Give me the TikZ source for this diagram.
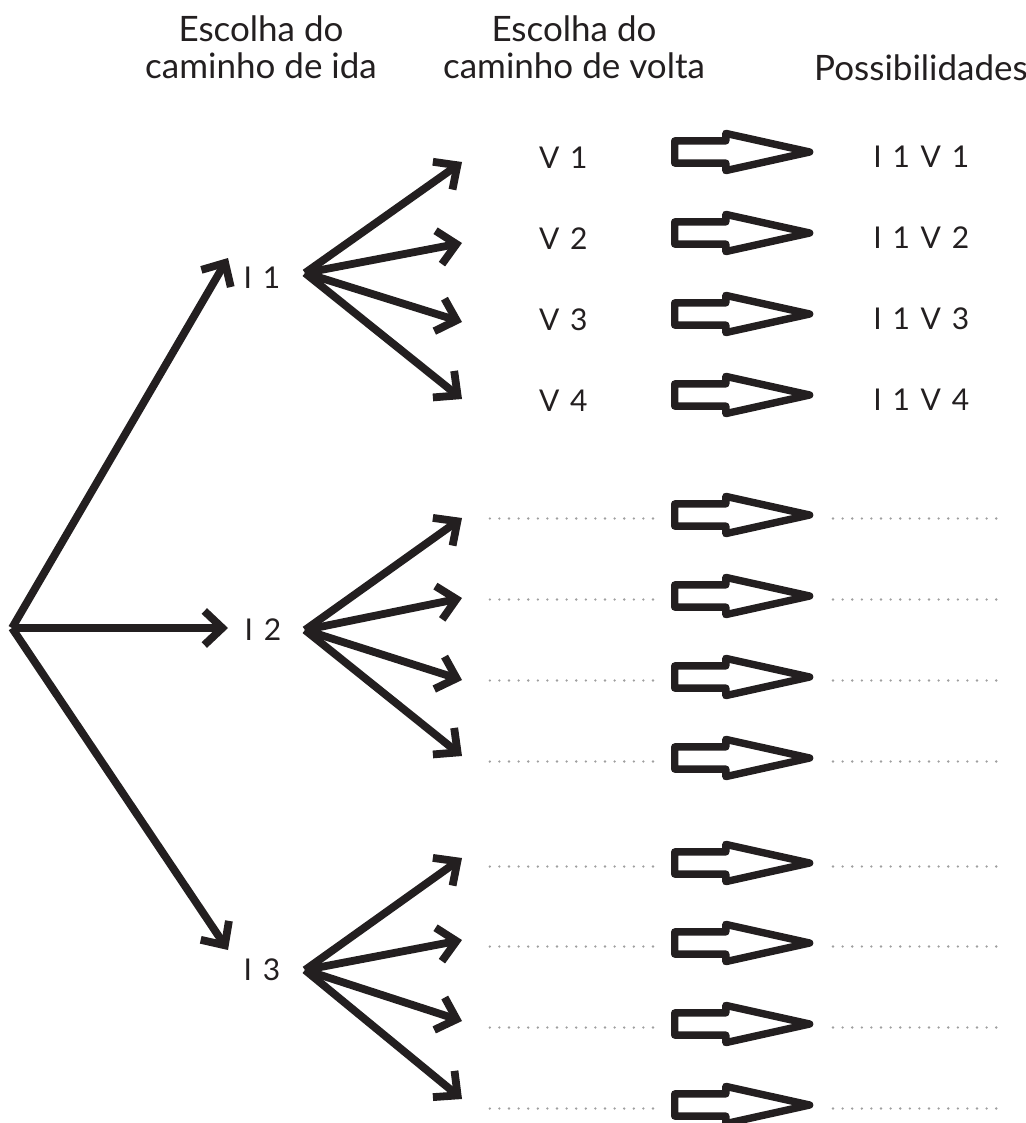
\documentclass[tikz,border=0pt]{standalone}
\usepackage{fontspec}
\setmainfont{Lato}
\newfontfamily\lblfont[WordSpace=1.4]{Lato}
\usepackage{xcolor}
\usepackage{tikz}
\usetikzlibrary{arrows.meta, positioning, shapes.arrows}
\definecolor{ink}{HTML}{231F20}

\begin{document}
\begin{tikzpicture}[
    x=0.5pt, y=-0.5pt,
    head/.style={align=center, text=ink, font=\fontsize{17.5}{18.5}\selectfont},
    lbl/.style={inner sep=0pt, text=ink, font=\lblfont\fontsize{15}{16}\selectfont},
    tree/.style={-{Straight Barb[length=9pt, width=17pt]}, line width=3.9pt, draw=ink},
    blk/.style={single arrow, anchor=west, draw=ink, line width=3.7pt, line join=round, inner sep=0pt, inner ysep=3.7pt, minimum height=67.5pt, single arrow head extend=3.75pt, single arrow tip angle=25},
    blank/.style={draw=gray!75, line width=1.3pt, line cap=round, dash pattern=on 0pt off 4.8pt}
]
\useasboundingbox (0,0) rectangle (1025,1123);

% Column titles
\node[head] (h_ida) at (261,47) {Escolha do\\caminho de ida};
\node[head] (h_volta) at (574,47) {Escolha do\\caminho de volta};
\node[head] (h_poss) at (921,68) {Possibilidades};

% First choice (ida)
\coordinate (root) at (12,628);
\node[lbl] (i1) at (262,278) {I 1};
\node[lbl] (i2) at (263,630) {I 2};
\node[lbl] (i3) at (262,970) {I 3};
\coordinate (i1_tip) at (228,258);
\coordinate (i2_tip) at (228,628);
\coordinate (i3_tip) at (228,950);
\draw[tree] (root) -- (i1_tip);
\draw[tree] (root) -- (i2_tip);
\draw[tree] (root) -- (i3_tip);

% Branch points
\coordinate (i1_out) at (305,273);
\coordinate (i2_out) at (305,630);
\coordinate (i3_out) at (305,970);

% Second choice (volta), branch ends
\coordinate (a11) at (462,162);
\coordinate (a12) at (462,243);
\coordinate (a13) at (462,322);
\coordinate (a14) at (462,399);
\coordinate (a21) at (462,518);
\coordinate (a22) at (462,598);
\coordinate (a23) at (462,680);
\coordinate (a24) at (462,756);
\coordinate (a31) at (462,858);
\coordinate (a32) at (462,940);
\coordinate (a33) at (462,1021);
\coordinate (a34) at (462,1099);
\draw[tree] (i1_out) -- (a11);
\draw[tree] (i1_out) -- (a12);
\draw[tree] (i1_out) -- (a13);
\draw[tree] (i1_out) -- (a14);
\draw[tree] (i2_out) -- (a21);
\draw[tree] (i2_out) -- (a22);
\draw[tree] (i2_out) -- (a23);
\draw[tree] (i2_out) -- (a24);
\draw[tree] (i3_out) -- (a31);
\draw[tree] (i3_out) -- (a32);
\draw[tree] (i3_out) -- (a33);
\draw[tree] (i3_out) -- (a34);

% Block arrows
\node[blk] (b11) at (671,152) {};
\node[blk] (b12) at (671,233) {};
\node[blk] (b13) at (671,314) {};
\node[blk] (b14) at (671,395) {};
\node[blk] (b21) at (671,515) {};
\node[blk] (b22) at (671,596) {};
\node[blk] (b23) at (671,677) {};
\node[blk] (b24) at (671,758) {};
\node[blk] (b31) at (671,863) {};
\node[blk] (b32) at (671,943) {};
\node[blk] (b33) at (671,1024) {};
\node[blk] (b34) at (671,1105) {};

% Return paths and possibilities (first group)
\node[lbl, left=41.5pt of b11, yshift=-2.75pt] (v1) {V 1};
\node[lbl, left=41.5pt of b12, yshift=-2.75pt] (v2) {V 2};
\node[lbl, left=41.5pt of b13, yshift=-2.75pt] (v3) {V 3};
\node[lbl, left=41.5pt of b14, yshift=-2.75pt] (v4) {V 4};
\node[lbl, right=101pt of b11.west, yshift=-2.5pt] (p11) {I 1 V 1};
\node[lbl, right=101pt of b12.west, yshift=-2.5pt] (p12) {I 1 V 2};
\node[lbl, right=101pt of b13.west, yshift=-2.5pt] (p13) {I 1 V 3};
\node[lbl, right=101pt of b14.west, yshift=-2.5pt] (p14) {I 1 V 4};

% Blanks to fill in
\draw[blank] ([xshift=-9pt,yshift=-1.75pt]b21.west) -- ++(-164,0);
\draw[blank] ([xshift=-9pt,yshift=-1.75pt]b22.west) -- ++(-164,0);
\draw[blank] ([xshift=-9pt,yshift=-1.75pt]b23.west) -- ++(-164,0);
\draw[blank] ([xshift=-9pt,yshift=-1.75pt]b24.west) -- ++(-164,0);
\draw[blank] ([xshift=-9pt,yshift=-1.75pt]b31.west) -- ++(-164,0);
\draw[blank] ([xshift=-9pt,yshift=-1.75pt]b32.west) -- ++(-164,0);
\draw[blank] ([xshift=-9pt,yshift=-1.75pt]b33.west) -- ++(-164,0);
\draw[blank] ([xshift=-9pt,yshift=-1.75pt]b34.west) -- ++(-164,0);
\draw[blank] ([xshift=81pt,yshift=-1.75pt]b21.west) -- ++(166,0);
\draw[blank] ([xshift=81pt,yshift=-1.75pt]b22.west) -- ++(166,0);
\draw[blank] ([xshift=81pt,yshift=-1.75pt]b23.west) -- ++(166,0);
\draw[blank] ([xshift=81pt,yshift=-1.75pt]b24.west) -- ++(166,0);
\draw[blank] ([xshift=81pt,yshift=-1.75pt]b31.west) -- ++(166,0);
\draw[blank] ([xshift=81pt,yshift=-1.75pt]b32.west) -- ++(166,0);
\draw[blank] ([xshift=81pt,yshift=-1.75pt]b33.west) -- ++(166,0);
\draw[blank] ([xshift=81pt,yshift=-1.75pt]b34.west) -- ++(166,0);

\end{tikzpicture}
\end{document}
